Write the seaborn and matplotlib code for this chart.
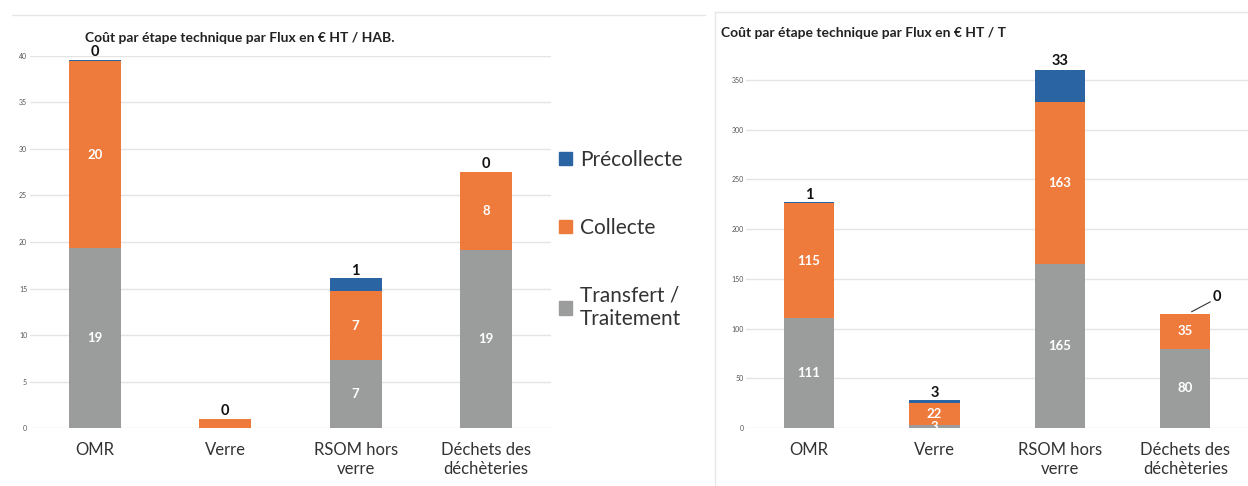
import numpy as np
import pandas as pd
import matplotlib
matplotlib.use("Agg")
import matplotlib.pyplot as plt
from matplotlib.lines import Line2D
from matplotlib.patches import Patch
import seaborn as sns

# data
flux = ["OMR", "Verre", "RSOM hors\nverre", "Déchets des\ndéchèteries"]
series = ["Transfert / Traitement", "Collecte", "Précollecte"]

hab_transfert = [19.4, 0.0, 7.3, 19.1]
hab_collecte = [20.0, 1.0, 7.4, 8.4]
hab_precollecte = [0.2, 0.0, 1.4, 0.0]

t_transfert = [111, 3, 165, 80]
t_collecte = [115, 22, 163, 35]
t_precollecte = [1, 3, 33, 0]

colors = {"Précollecte": "#2a64a3", "Collecte": "#ee7b3c", "Transfert / Traitement": "#9b9d9d"}

sns.set_theme(style="white")
plt.rcParams["font.family"] = ["Lato", "DejaVu Sans"]

fig = plt.figure(figsize=(12.48, 4.86), dpi=100)
ax1 = fig.add_axes([0.024, 0.119, 0.4175, 0.766])
ax2 = fig.add_axes([0.598, 0.119, 0.402, 0.737])


def stacked(ax, trans, coll, prec, ymax, yticks, min_inner):
    df = pd.DataFrame({"flux": flux, "Transfert / Traitement": trans,
                       "Collecte": coll, "Précollecte": prec})
    df["c1"] = df["Transfert / Traitement"]
    df["c2"] = df["c1"] + df["Collecte"]
    df["c3"] = df["c2"] + df["Précollecte"]
    # draw tallest first so lower layers sit on top
    for col, name in [("c3", "Précollecte"), ("c2", "Collecte"), ("c1", "Transfert / Traitement")]:
        sns.barplot(data=df, x="flux", y=col, color=colors[name], width=0.4,
                    saturation=1, linewidth=0, ax=ax, zorder=3)
    for i, row in df.iterrows():
        for lo, hi, name in [(0, row["c1"], "Transfert / Traitement"), (row["c1"], row["c2"], "Collecte")]:
            v = row[name]
            if v >= min_inner:
                ax.text(i, (lo + hi) / 2, f"{v:.0f}", ha="center", va="center",
                        color="white", fontsize=9.5, fontweight="bold", zorder=5)
        ax.text(i, row["c3"] + ymax * 0.002, f"{row['Précollecte']:.0f}", ha="center", va="bottom",
                color="#111111", fontsize=10.5, fontweight="bold", zorder=5)
    ax.set_ylim(0, ymax)
    ax.set_xlim(-0.5, 3.5)
    ax.set_yticks(yticks)
    ax.yaxis.grid(True, color="#e4e4e4", linewidth=1)
    ax.set_axisbelow(True)
    ax.set_xlabel("")
    ax.set_ylabel("")
    ax.tick_params(axis="y", labelsize=5, colors="#555555", pad=2, length=0)
    ax.tick_params(axis="x", labelsize=12, colors="#333333", pad=10, length=0)
    sns.despine(ax=ax, left=True, bottom=True)
    return df


stacked(ax1, hab_transfert, hab_collecte, hab_precollecte, 40, range(0, 41, 5), 2)
df2 = stacked(ax2, t_transfert, t_collecte, t_precollecte, 360, range(0, 351, 50), 1)

# the right chart puts the "0" of the last bar off to the side
for txt in ax2.texts[-1:]:
    txt.set_visible(False)
top = df2["c3"].iloc[3]
ax2.add_line(Line2D([3.05, 3.2], [top + 2, top + 12], color="#333333", lw=0.8))
ax2.text(3.22, top + 10, f"{t_precollecte[3]}", ha="left", va="bottom",
         fontsize=10.5, fontweight="bold", color="#111111")

fig.text(0.068, 0.921, "Coût par étape technique par Flux en € HT / HAB.",
         fontsize=10, fontweight="bold", color="#222222", va="center")
fig.text(0.578, 0.932, "Coût par étape technique par Flux en € HT / T",
         fontsize=10, fontweight="bold", color="#222222", va="center")

handles = [Patch(color=colors[s]) for s in ["Précollecte", "Collecte", "Transfert / Traitement"]]
labels = ["Précollecte", "Collecte", "Transfert /\nTraitement"]
fig.legend(handles, labels, loc="upper left", bbox_to_anchor=(0.433, 0.73), frameon=False,
           fontsize=15, handlelength=0.6, handleheight=0.6, handletextpad=0.4,
           labelspacing=2.3, labelcolor="#333333")

# page lines around the panels
fig.add_artist(Line2D([0.01, 0.565], [0.97, 0.97], color="#e6e6e6", lw=1))
fig.add_artist(Line2D([0.573, 0.573], [0.0, 0.975], color="#e6e6e6", lw=1))
fig.add_artist(Line2D([0.573, 1.0], [0.975, 0.975], color="#e6e6e6", lw=1))

fig.savefig("out.png", dpi=100)
